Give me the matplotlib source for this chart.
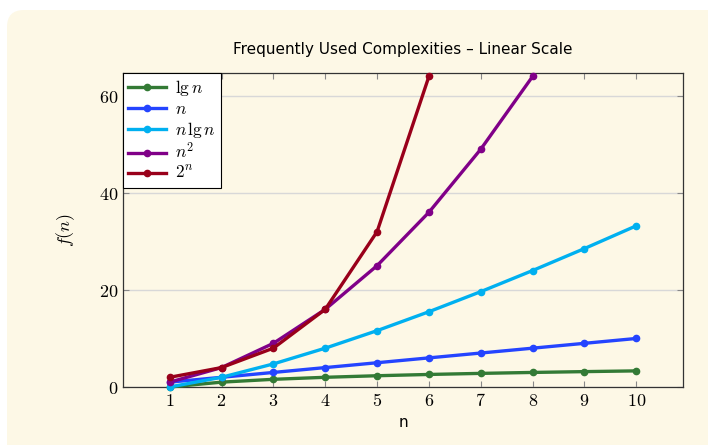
import numpy as np
import matplotlib.pyplot as plt
from matplotlib.patches import FancyBboxPatch

plt.rcParams['mathtext.fontset'] = 'cm'

n = [1, 2, 3, 4, 5, 6, 7, 8, 9, 10]
lg_n = [0, 1, 1.585, 2, 2.322, 2.585, 2.807, 3, 3.170, 3.322]
lin_n = [1, 2, 3, 4, 5, 6, 7, 8, 9, 10]
nlg_n = [0, 2, 4.755, 8, 11.61, 15.51, 19.65, 24, 28.53, 33.22]
n_sq = [1, 4, 9, 16, 25, 36, 49, 64]
pow2 = [2, 4, 8, 16, 32, 64]

labels = [r'$\lg n$', r'$n$', r'$n\,\lg n$', r'$n^2$', r'$2^n$']
colors = ['#337a35', '#2444ff', '#00b0f0', '#800088', '#99001a']
series = [lg_n, lin_n, nlg_n, n_sq, pow2]

bg = '#fdf8e6'
fig = plt.figure(figsize=(7.08, 4.45), dpi=100)
fig.patch.set_facecolor('white')
box = FancyBboxPatch((7 / 708, -0.1), 1.2, 1.1 - 10 / 445,
                     boxstyle='round,pad=0,rounding_size=0.024',
                     transform=fig.transFigure, facecolor=bg, edgecolor='none',
                     mutation_aspect=708 / 445, zorder=-10)
fig.patches.append(box)

ax = fig.add_axes([123 / 708, 1 - 387 / 445, 560 / 708, 314 / 445])
ax.set_facecolor(bg)

for ys, lab, c in zip(series, labels, colors):
    ax.plot(n[:len(ys)], ys, color=c, lw=2.4, marker='o', ms=4.5, label=lab,
            clip_on=False, zorder=3)

ax.set_xlim(0.1, 10.9)
ax.set_ylim(0, 64.7)
ax.set_xticks(n)
ax.set_yticks([0, 20, 40, 60])
ax.set_xticklabels([f'${v}$' for v in n], fontsize=13)
ax.set_yticklabels([f'${v}$' for v in [0, 20, 40, 60]], fontsize=13)
ax.tick_params(direction='in', top=True, right=True, length=4, color='#888888',
               width=0.8)
ax.grid(axis='y', color='#d8d8d8', lw=1)
ax.set_axisbelow(True)
for s in ax.spines.values():
    s.set_color('#333333')
    s.set_linewidth(0.9)

ax.set_title('Frequently Used Complexities – Linear Scale', fontsize=11, pad=14)
ax.set_xlabel('n', fontsize=11, labelpad=4)
ax.set_ylabel(r'$f(n)$', fontsize=13, labelpad=16)

leg = ax.legend(loc='upper left', fontsize=12.5, frameon=True, fancybox=False,
                borderaxespad=0, handlelength=2.2, labelspacing=0.12,
                borderpad=0.3, handletextpad=0.5)
leg.get_frame().set_edgecolor('black')
leg.get_frame().set_linewidth(0.8)
leg.get_frame().set_facecolor('white')
leg.get_frame().set_alpha(1)

fig.savefig('out.png', dpi=100, facecolor=fig.get_facecolor())
